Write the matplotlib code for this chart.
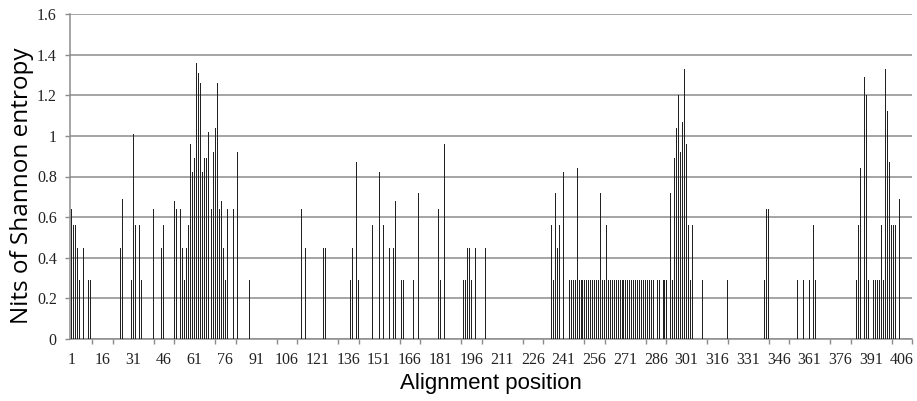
import numpy as np
import matplotlib
matplotlib.use("Agg")
import matplotlib.pyplot as plt

# alignment positions that carry some entropy (all others are zero)
positions = [1, 2, 3, 4, 5, 7, 9, 10, 25, 26, 30, 31, 32, 34, 35, 41, 45, 46,
             51, 52, 54, 55, 56, 57, 58, 59, 60, 61, 62, 63, 64, 65, 66, 67, 68,
             69, 70, 71, 72, 73, 74, 75, 76, 77, 80, 82, 88,
             113, 115, 124, 125, 137, 138, 140, 141, 148, 151, 153, 156, 158, 159,
             162, 163, 168, 170, 180, 181, 183, 192, 193, 194, 195, 196, 198, 203,
             235, 236, 237, 238, 239, 241,
             244, 245, 246, 247, 248, 249, 250, 251, 252, 253, 254, 255, 256, 257,
             258, 259, 260, 261, 262, 263, 264, 265, 266, 267, 268, 269, 270, 271,
             272, 273, 274, 275, 276, 277, 278, 279, 280, 281, 282, 283, 284, 285,
             287, 288, 290, 291, 293, 294, 295, 296, 297, 298, 299, 300, 301, 302,
             303, 304, 309, 321, 339, 340, 341, 355, 358, 361, 363, 364,
             384, 385, 386, 388, 389, 390, 392, 393, 394, 395, 396, 397, 398, 399,
             400, 401, 402, 403, 405]
entropy = [0.64, 0.56, 0.56, 0.45, 0.29, 0.45, 0.29, 0.29, 0.45, 0.69, 0.29, 1.01, 0.56, 0.56, 0.29, 0.64, 0.45, 0.56,
           0.68, 0.64, 0.64, 0.45, 0.29, 0.45, 0.56, 0.96, 0.82, 0.89, 1.36, 1.31, 1.26, 0.82, 0.89, 0.89, 1.02,
           0.64, 0.92, 1.04, 1.26, 0.64, 0.68, 0.45, 0.29, 0.64, 0.64, 0.92, 0.29,
           0.64, 0.45, 0.45, 0.45, 0.29, 0.45, 0.87, 0.29, 0.56, 0.82, 0.56, 0.45, 0.45, 0.68,
           0.29, 0.29, 0.29, 0.72, 0.64, 0.29, 0.96, 0.29, 0.29, 0.45, 0.45, 0.29, 0.45, 0.45,
           0.56, 0.29, 0.72, 0.45, 0.56, 0.82,
           0.29, 0.29, 0.29, 0.29, 0.84, 0.29, 0.29, 0.29, 0.29, 0.29, 0.29, 0.29, 0.29, 0.29,
           0.29, 0.72, 0.29, 0.29, 0.56, 0.29, 0.29, 0.29, 0.29, 0.29, 0.29, 0.29, 0.29, 0.29,
           0.29, 0.29, 0.29, 0.29, 0.29, 0.29, 0.29, 0.29, 0.29, 0.29, 0.29, 0.29, 0.29, 0.29,
           0.29, 0.29, 0.29, 0.29, 0.72, 0.29, 0.89, 1.04, 1.20, 0.92, 1.07, 1.33, 0.96, 0.56,
           0.29, 0.56, 0.29, 0.29, 0.29, 0.64, 0.64, 0.29, 0.29, 0.29, 0.56, 0.29,
           0.29, 0.56, 0.84, 1.29, 1.20, 0.29, 0.29, 0.29, 0.29, 0.29, 0.56, 0.29, 1.33, 1.12,
           0.87, 0.56, 0.56, 0.56, 0.69]

xlabels = list(range(1, 407, 15))
yticks = [0, 0.2, 0.4, 0.6, 0.8, 1, 1.2, 1.4, 1.6]

grey = '#8c8c8c'

fig = plt.figure(figsize=(9.17, 4.01), dpi=100)
ax = fig.add_axes([70 / 917, 1 - 339 / 401, 842 / 917, 325 / 401])

ax.bar(positions, entropy, width=0.5, color='#222222', linewidth=0, zorder=3)

ax.set_xlim(0.2, 410.6)
ax.set_ylim(0, 1.6)

ax.set_yticks(yticks)
ax.set_yticklabels(['0', '0.2', '0.4', '0.6', '0.8', '1', '1.2', '1.4', '1.6'])
ax.yaxis.grid(True, color=grey, linewidth=1.1, zorder=0)
ax.set_axisbelow(True)

ax.set_xticks(xlabels)
ax.set_xticklabels([str(v) for v in xlabels])
ax.set_xticks(range(1, 412, 10), minor=True)

for s in ['top', 'right']:
    ax.spines[s].set_visible(False)
for s in ['left', 'bottom']:
    ax.spines[s].set_color(grey)
    ax.spines[s].set_linewidth(1.1)

ax.tick_params(axis='x', which='major', length=0, pad=9)
ax.tick_params(axis='x', which='minor', length=3.5, width=1, color=grey)
ax.tick_params(axis='y', length=3.5, width=1, color=grey, pad=6)
for lab in ax.get_xticklabels() + ax.get_yticklabels():
    lab.set_family('Liberation Serif')
    lab.set_fontsize(11.5)
    lab.set_color('#222222')

fig.text(491 / 917, 1 - 383 / 401, 'Alignment position', family='Liberation Sans',
         fontsize=16, ha='center', va='center')
fig.text(22 / 917, 1 - 186 / 401, 'Nits of Shannon entropy', family='Open Sans',
         fontsize=17.5, rotation=90, ha='center', va='center')

fig.savefig('out.png', dpi=100)
